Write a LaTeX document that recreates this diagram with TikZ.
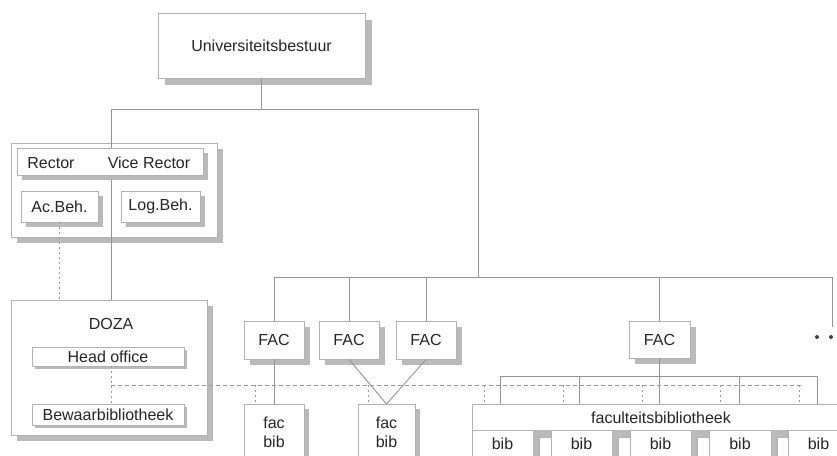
\documentclass[tikz,border=0pt]{standalone}
\usepackage{fontspec}
\setmainfont{Liberation Sans}
\usetikzlibrary{shadows}
\begin{document}
\begin{tikzpicture}[x=1pt,y=-1pt,
  font=\fontsize{16}{19}\selectfont, text=black!85,
  bx/.style={draw=black!30, fill=white, line width=0.9pt, inner sep=0pt},
  sh/.style={drop shadow={shadow xshift=#1, shadow yshift=-#1, fill=black!27, opacity=1}},
  conn/.style={draw=black!42, line width=0.9pt},
  dconn/.style={draw=black!40, line width=0.8pt, dash pattern=on 4pt off 3pt},
  dotl/.style={draw=black!40, line width=0.8pt, dash pattern=on 2pt off 3pt},
  lbl/.style={inner sep=0pt},
  dotn/.style={circle, fill=black!75, inner sep=0pt, minimum size=4pt}]
\useasboundingbox (0,0) rectangle (837,455);
\clip (0,0) rectangle (837,455);

% top
\node[bx,sh=7pt,minimum width=207pt,minimum height=65pt] (ub) at (261.5,45.5) {Universiteitsbestuur};
\coordinate (jl) at (111,109);
\coordinate (jr) at (478,109);
\coordinate (hl) at (832,277);
\coordinate (hr) at (832,327);

% rector group
\node[bx,sh=6pt,minimum width=206pt,minimum height=94pt] (rg) at (114,190) {};
\node[bx,sh=6pt,minimum width=196pt,minimum height=135pt] (doza) at (109,367.5) {};
\draw[conn] (jl) -- (jl |- doza.north);
\draw[conn] (ub.south) -- (ub.south |- jl);
\draw[conn] (jl) -- (jr) -- (jr |- hl);
\node[bx,sh=5pt,minimum width=186pt,minimum height=27pt] (rv) at (110,161.5) {};
\node[lbl] (rector) at (51,163) {Rector};
\node[lbl] (vrector) at (149,163) {Vice Rector};
\node[bx,sh=5pt,minimum width=77pt,minimum height=31pt] (ac) at (59.5,206.5) {Ac.Beh.};
\node[bx,sh=5pt,minimum width=79pt,minimum height=31pt] (lb) at (160.5,206.5) {Log.Beh.};
\draw[dotl] (ac.south) -- (ac.south |- doza.north);

% DOZA
\node[lbl] (dozal) at (111,324) {DOZA};
\node[bx,sh=3pt,minimum width=152pt,minimum height=19pt] (ho) at (108,356.5) {Head office};
\node[bx,sh=3pt,minimum width=152pt,minimum height=21pt] (bw) at (108,414.5) {Bewaarbibliotheek};
\draw[dotl] (ho.south -| 111,0) -- (bw.north -| 111,0);
\coordinate (ds) at (111,385);
\coordinate (de) at (803,385);
\draw[dconn] (ds) -- (de);

% FAC row
\node[bx,sh=6pt,minimum width=60pt,minimum height=38pt] (f1) at (274,340) {FAC};
\node[bx,sh=6pt,minimum width=60pt,minimum height=38pt] (f2) at (349,340) {FAC};
\node[bx,sh=6pt,minimum width=60pt,minimum height=38pt] (f3) at (426,340) {FAC};
\node[bx,sh=6pt,minimum width=61pt,minimum height=37pt] (f4) at (659.5,339.5) {FAC};
\draw[conn] (f1.north |- hl) -- (hl) -- (hr);
\foreach \f in {f1,f2,f3,f4} \draw[conn] (\f.north |- hl) -- (\f.north);
\node[dotn] (d1) at (817,337) {};
\node[dotn] (d2) at (831,337) {};

% fac bib
\node[bx,sh=5pt,minimum width=60pt,minimum height=70pt,anchor=north] (fb1) at (274,404) {};
\node[bx,sh=5pt,minimum width=57pt,minimum height=70pt,anchor=north] (fb2) at (386.5,404) {};
\node[lbl,align=center] (fb1t) at (274,432.5) {fac\\bib};
\node[lbl,align=center] (fb2t) at (386.5,432.5) {fac\\bib};
\draw[conn] (f1.south) -- (fb1.north);
\draw[conn] (f2.south) -- (fb2.north);
\draw[conn] (f3.south) -- (fb2.north);
\draw[dotl] (255,385) -- (255,404);
\draw[dotl] (368,385) -- (368,404);

% faculteitsbibliotheek
\node[bx,minimum width=378pt,minimum height=26pt] (fh) at (661,417) {};
\node[lbl] (fhl) at (661,418) {faculteitsbibliotheek};
\coordinate (bt) at (500,376);
\coordinate (btr) at (817,376);
\draw[conn] (bt) -- (btr);
\foreach \x in {500,579,739,817} \draw[conn] (\x,376) -- (\x,404);
\draw[conn] (f4.south) -- (f4.south |- fh.north);
\foreach \x in {484,563,642,720,799} \draw[dotl] (\x,385) -- (\x,404);

% bib row
\foreach \a/\b [count=\i] in {472/533,551/612,630/691,709/771,788/849}{
  \node[bx,minimum width={\b-\a},minimum height=40pt,anchor=north west] (bib\i) at (\a,430) {};
  \node[lbl] (bibl\i) at ({(\a+\b)/2},444) {bib};
}
\foreach \a/\b in {533/551,612/630,691/709,771/788}{
  \fill[black!27] (\a,430) rectangle (\b,470);
  \draw[draw=black!30,fill=white,line width=0.9pt] (\a+6,437) rectangle (\b,470);
}
\end{tikzpicture}
\end{document}
